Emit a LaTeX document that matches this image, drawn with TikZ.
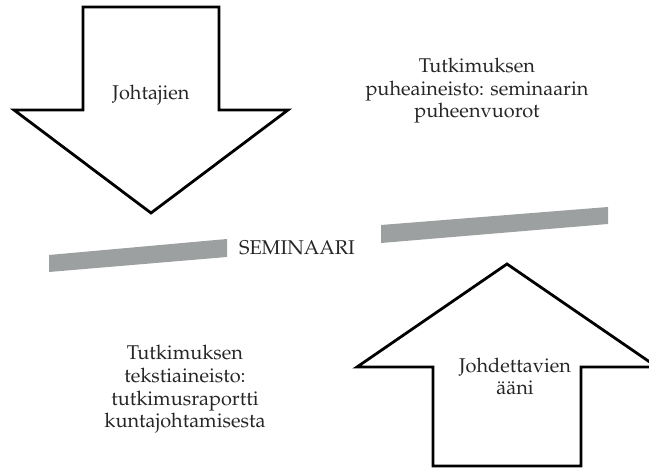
\documentclass[tikz,border=0pt]{standalone}
\usepackage[T1]{fontenc}
\usepackage{palatino}
\definecolor{bargray}{RGB}{157,160,160}
\begin{document}
\begin{tikzpicture}[x=1bp,y=1bp,line join=miter,font=\fontsize{20}{23}\selectfont,
	txt/.style={text=black!85,inner sep=0pt,align=center,anchor=base},
	arrowshape/.style={draw,line width=2.8bp,fill=white}]
	\useasboundingbox (0,0) rectangle (649,469);
	\path 
	(83,462) coordinate (d1)
	(219,462) coordinate (d2)
	(219,359) coordinate (d3)
	(288,359) coordinate (d4)
	(151,256) coordinate (d5)
	(14,359) coordinate (d6)
	(83,359) coordinate (d7)
	(433,3) coordinate (u1)
	(581,3) coordinate (u2)
	(581,102) coordinate (u3)
	(657,102) coordinate (u4)
	(507,205) coordinate (u5)
	(357,102) coordinate (u6)
	(433,102) coordinate (u7)
	;
	\draw[arrowshape] (d1)--(d2)--(d3)--(d4)--(d5)--(d6)--(d7)--cycle;
	\draw[arrowshape] (u1)--(u2)--(u3)--(u4)--(u5)--(u6)--(u7)--cycle;
	% seminar bars
	\fill[bargray] (49,197)--(49,214)--(227,230)--(227,212)--cycle;
	\fill[bargray] (381,226)--(381,244)--(608,262)--(608,245)--cycle;
	\node[txt] (seminar) at (297,214) {SEMINAARI};
	\node[txt] (leaders) at (151,369) {Johtajien};
	% base of a multi-line node = last line
	\node[txt] (voice) at (515,74) {Johdettavien\\\"a\"ani};
	\node[txt] (speech) at (477,351) {Tutkimuksen\\puheaineisto: seminaarin\\puheenvuorot};
	\node[txt] (report) at (185,41) {Tutkimuksen\\tekstiaineisto:\\tutkimusraportti\\kuntajohtamisesta};
\end{tikzpicture}
\end{document}
